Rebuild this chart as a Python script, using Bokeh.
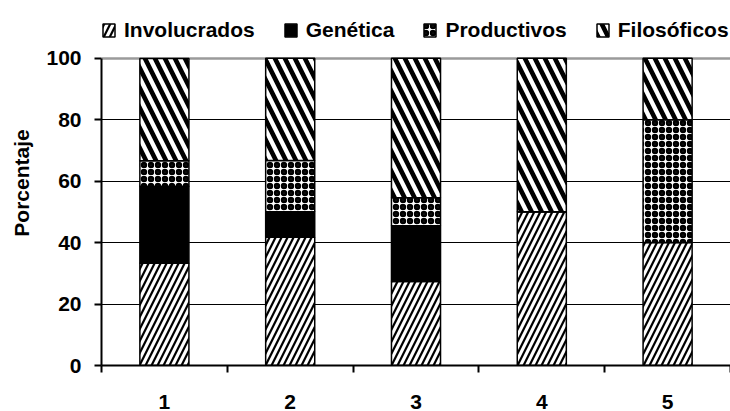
from bokeh.plotting import figure
from bokeh.models import FixedTicker, Range1d, Legend, LegendItem, Grid
from bokeh.embed import file_html
from bokeh.resources import INLINE

# ---- data ----
categories = [1, 2, 3, 4, 5]
involucrados = [33.3, 41.7, 27.3, 50.0, 40.0]
genetica = [25.0, 8.3, 18.2, 0.0, 0.0]
productivos = [8.3, 16.7, 9.1, 0.0, 40.0]
filosoficos = [33.3, 33.3, 45.4, 50.0, 20.0]
series_names = ["Involucrados", "Genética", "Productivos", "Filosóficos"]
series_keys = ["inv", "gen", "prod", "fil"]
y_ticks = [0, 20, 40, 60, 80, 100]
y_label = "Porcentaje"

FONT = "Liberation Sans"
W, H = 730, 411
FRAME_BOTTOM = 364      # px from top where y = 0
TOP_PX = 57.5           # px from top where y = 100
y_max = y_ticks[-1]
y_end = y_max * FRAME_BOTTOM / (FRAME_BOTTOM - TOP_PX)   # frame reaches canvas top (room for legend)

source = dict(x=categories, inv=involucrados, gen=genetica, prod=productivos, fil=filosoficos)

p = figure(width=W, height=H,
           x_range=Range1d(categories[0] - 0.5, categories[-1] + 0.5),
           y_range=Range1d(y_ticks[0], y_end),
           output_backend="svg", toolbar_location=None,
           min_border_left=101, min_border_right=0, min_border_top=0, min_border_bottom=0)
p.background_fill_color = "white"
p.border_fill_color = "white"
p.outline_line_color = None

renderers = p.vbar_stack(series_keys, x="x", width=0.39, source=source,
                         fill_color=["white", "black", "white", "white"],
                         hatch_pattern=["/", " ", "o", "\\"],
                         hatch_color="black",
                         hatch_scale=[12, 6, 7, 20],
                         hatch_weight=[2.2, 1, 3, 4.6],
                         line_color="black", line_width=1.5)

# grid
p.xgrid.visible = False
p.ygrid.ticker = FixedTicker(ticks=y_ticks[1:-1])
p.ygrid.grid_line_color = "black"
p.ygrid.grid_line_width = 1
top_grid = Grid(dimension=1, ticker=FixedTicker(ticks=[y_max]),
                grid_line_color="#9a9a9a", grid_line_width=2.5)
p.add_layout(top_grid)

# x axis: labels at categories, tick marks at category boundaries
bounds = [c - 0.5 for c in categories] + [categories[-1] + 0.5]
xa = p.xaxis[0]
xa.ticker = FixedTicker(ticks=categories, minor_ticks=bounds)
xa.major_tick_out = 0
xa.major_tick_in = 0
xa.minor_tick_out = 7
xa.minor_tick_in = 0
xa.minor_tick_line_color = "black"
xa.minor_tick_line_width = 2
xa.axis_line_color = "black"
xa.axis_line_width = 2
xa.major_label_standoff = 22
xa.major_label_text_font = FONT
xa.major_label_text_font_style = "bold"
xa.major_label_text_font_size = "21px"
xa.major_label_text_color = "black"

# y axis
ya = p.yaxis[0]
ya.ticker = FixedTicker(ticks=y_ticks, minor_ticks=[])
ya.bounds = (y_ticks[0], y_max)
ya.major_tick_out = 7
ya.major_tick_in = 0
ya.major_tick_line_color = "black"
ya.major_tick_line_width = 2
ya.axis_line_color = "black"
ya.axis_line_width = 2
ya.major_label_standoff = 13
ya.major_label_text_font = FONT
ya.major_label_text_font_style = "bold"
ya.major_label_text_font_size = "21px"
ya.major_label_text_color = "black"
ya.axis_label = y_label
ya.axis_label_text_font = FONT
ya.axis_label_text_font_style = "bold"
ya.axis_label_text_font_size = "21px"
ya.axis_label_text_color = "black"
ya.axis_label_standoff = 10

legend = Legend(items=[LegendItem(label=n, renderers=[r]) for n, r in zip(series_names, renderers)],
                orientation="horizontal", location=(0, FRAME_BOTTOM - 41),
                glyph_width=15, glyph_height=16, label_standoff=8, spacing=28,
                padding=0, margin=0, border_line_color=None, background_fill_alpha=0,
                label_text_font=FONT, label_text_font_style="bold",
                label_text_font_size="21px", label_text_color="black")
p.add_layout(legend)

open("out.html", "w").write(file_html(p, INLINE))
